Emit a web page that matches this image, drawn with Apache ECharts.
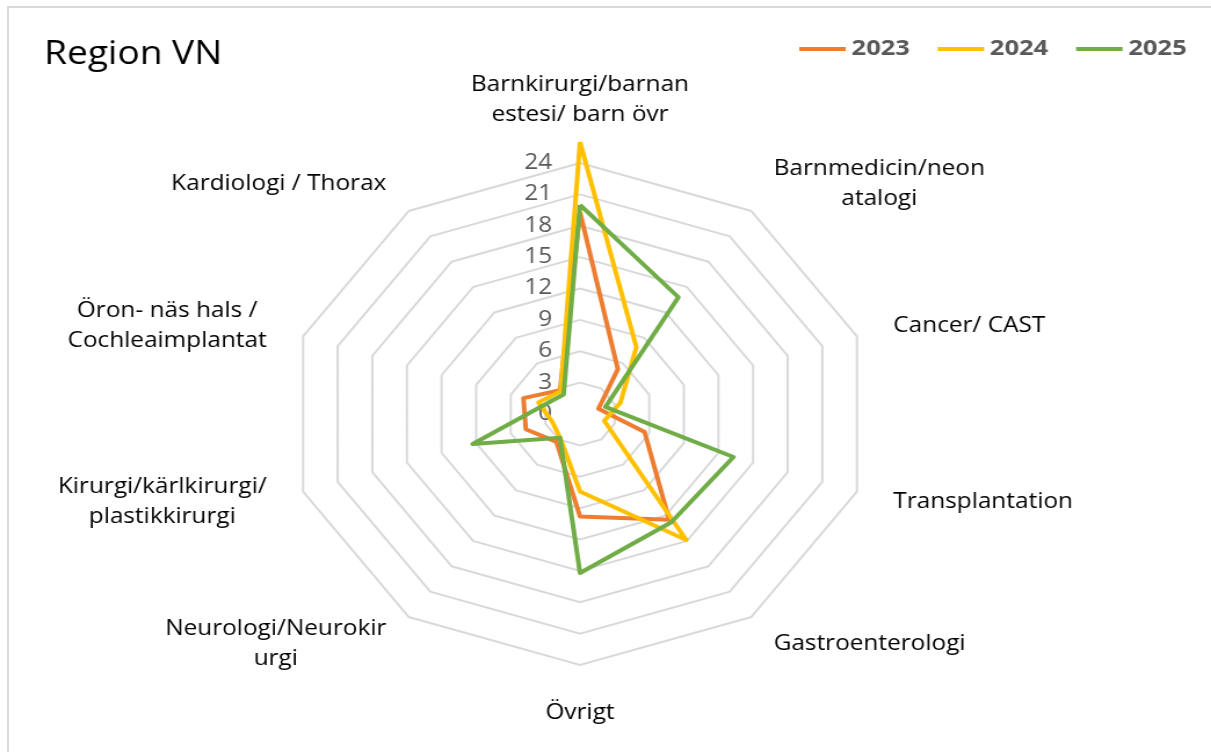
<!DOCTYPE html>
<html>
<head>
<meta charset="utf-8">
<title>Region VN</title>
<script src="https://cdn.jsdelivr.net/npm/echarts@6/dist/echarts.min.js"></script>
<style>
  html, body { margin: 0; padding: 0; background: #fff; overflow: hidden; }
  #frame { position: absolute; left: 7px; top: 6px; width: 1300px; height: 900px; border: 2px solid #d9d9d9; }
  /* the source picture is stretched horizontally, so the chart is too */
  #main { position: absolute; left: 0; top: 0; width: 1044px; height: 752px; transform: scaleX(1.16); transform-origin: 0 0; }
</style>
</head>
<body>
<div id="frame"></div>
<div id="main"></div>
<script>
// axes, clockwise from the top (as in Excel)
var categories = [
  'Barnkirurgi/barnan\nestesi/ barn övr',
  'Barnmedicin/neon\natalogi',
  'Cancer/ CAST',
  'Transplantation',
  'Gastroenterologi',
  'Övrigt',
  'Neurologi/Neurokir\nurgi',
  'Kirurgi/kärlkirurgi/\nplastikkirurgi',
  'Öron- näs hals /\nCochleaimplantat',
  'Kardiologi / Thorax'
]
var years = ['2023', '2024', '2025']
var values2023 = [19.3, 5.3, 1.6, 5.6, 12.5, 9.8, 3.3, 4.7, 4.9, 2.8]
var values2024 = [26, 7.9, 3.5, 2.1, 14.9, 7.4, 2.8, 2.4, 3.6, 2.7]
var values2025 = [20, 13.8, 2.2, 13.3, 12.8, 15.2, 2.8, 9.3, 3.0, 2.3]
var scaleMax = 24
var scaleSplits = 8

var colors = ['#ED7D31', '#FFC000', '#70AD47']
var font = '"Open Sans", "Noto Sans", sans-serif'

// echarts places indicators counter-clockwise, so flip everything after the first
var order = categories.map(function (_, i) { return i === 0 ? 0 : categories.length - i })
function reorder(arr) {
  return order.map(function (i) { return arr[i] })
}

var indicators = reorder(categories).map(function (name, i) {
  var item = { name: name, min: 0, max: scaleMax }
  // only the top axis carries the value labels
  if (i === 0) item.axisLabel = { show: true }
  return item
})

var chart = echarts.init(document.getElementById('main'), null, { renderer: 'canvas' })

var option = {
  color: colors,
  animation: false,
  title: {
    text: 'Region VN',
    left: 33,
    top: 34,
    textStyle: { fontFamily: font, fontSize: 32, fontWeight: 'normal', color: '#000' }
  },
  legend: {
    data: years,
    right: 16,
    top: 33,
    icon: 'rect',
    itemWidth: 40,
    itemHeight: 4,
    itemGap: 24,
    textStyle: { fontFamily: font, fontSize: 22, fontWeight: 'bold', color: '#595959' }
  },
  radar: {
    center: [500, 414],
    radius: 251,
    shape: 'polygon',
    splitNumber: scaleSplits,
    nameGap: 33,
    indicator: indicators,
    axisName: {
      formatter: function (name) {
        return name.split('\n').map(function (s) { return '{c|' + s + '}' }).join('\n')
      },
      rich: {
        c: { align: 'center', fontFamily: font, fontSize: 21, lineHeight: 30, color: '#000' }
      }
    },
    axisLine: { show: false },
    axisTick: { show: false },
    axisLabel: {
      show: false,
      fontFamily: font,
      fontSize: 21,
      color: '#595959',
      margin: 24
    },
    splitArea: { show: false },
    splitLine: { lineStyle: { color: '#d9d9d9', width: 2 } }
  },
  series: [
    {
      type: 'radar',
      symbol: 'none',
      lineStyle: { width: 4 },
      data: [
        { name: years[0], value: reorder(values2023) },
        { name: years[1], value: reorder(values2024) },
        { name: years[2], value: reorder(values2025) }
      ]
    }
  ]
}

chart.setOption(option)
</script>
</body>
</html>
